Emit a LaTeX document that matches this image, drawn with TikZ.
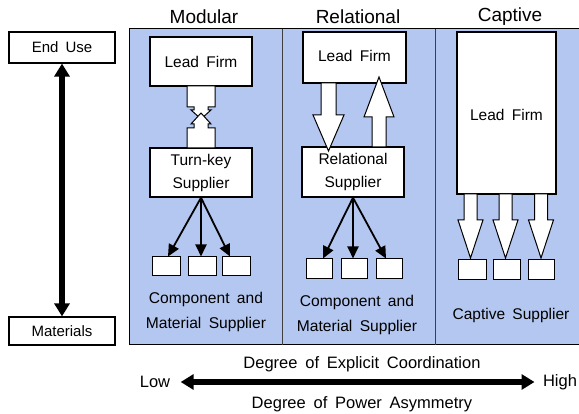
\documentclass[tikz,border=0pt]{standalone}
\usepackage{fontspec}
\setmainfont{Liberation Sans}[WordSpace=1.7]
\usetikzlibrary{arrows.meta}
\definecolor{panelblue}{RGB}{180,199,240}
\tikzset{
  firm/.style={draw=black, line width=1.4pt, fill=white, inner sep=0pt, align=center, font=\fontsize{15.5}{23}\selectfont},
  endbox/.style={draw=black, line width=1.2pt, fill=white, inner sep=0pt, minimum width=106pt, font=\fontsize{15}{18}\selectfont},
  smallbox/.style={draw=black, line width=1pt, fill=white, inner sep=0pt},
  fatarrow/.style={draw=black, line width=1pt, fill=white, line join=miter},
  link/.style={line width=1.8pt, -{Triangle[length=12pt,width=11pt]}},
  title/.style={font=\fontsize{19}{22}\selectfont},
  caption/.style={font=\fontsize{15.6}{24.5}\selectfont, align=center},
  axislabel/.style={font=\fontsize{16.5}{20}\selectfont},
  axis/.style={line width=6pt, {Triangle[length=13pt,width=15pt]}-{Triangle[length=13pt,width=15pt]}}
}
% hollow block arrow: center x, shaft start y, head base y, tip y, half shaft, half head
\newcommand\blockarrow[6]{%
  \draw[fatarrow] ({#1-#5},#2) -- ({#1+#5},#2) -- ({#1+#5},#3) -- ({#1+#6},#3)
    -- (#1,#4) -- ({#1-#6},#3) -- ({#1-#5},#3) -- cycle;}
\begin{document}
\begin{tikzpicture}[x=1pt, y=-1pt]
\useasboundingbox (0,0) rectangle (579,414);
% panels
\fill[panelblue] (129,29) rectangle (580,345);
\draw[line width=1pt] (580,29) -- (129,29) -- (129,345) -- (580,345);
\draw[line width=1pt, black!75] (282,29) -- (282,345);
\draw[line width=1pt, black!75] (435,29) -- (435,345);
% titles
\node[title] (tmod) at (204,17) {Modular};
\node[title] (trel) at (358,17) {Relational};
\node[title] (tcap) at (510,17) {Captive};
% value chain axis
\node[endbox, minimum height=31pt] (enduse) at (62,47.5) {End Use};
\node[endbox, minimum height=28pt] (materials) at (62,331) {Materials};
\draw[axis] (enduse.south) -- (materials.north);

% ---- Modular ----
\node[firm, minimum width=102pt, minimum height=49pt] (mlead) at (201,61.5) {Lead Firm};
\node[firm, minimum width=102pt, minimum height=49pt] (msup) at (201,172.5) {Turn-key\\Supplier};
% codified interface
\draw[fatarrow] (187,86) -- (215,86) -- (215,107) -- (208,107) -- (208,110) -- (211,110)
  -- (201,119) -- (191,110) -- (194,110) -- (194,107) -- (187,107) -- cycle;
\draw[fatarrow] (187,148) -- (215,148) -- (215,128) -- (208,128) -- (208,124) -- (211,124)
  -- (201,113) -- (191,124) -- (194,124) -- (194,128) -- (187,128) -- cycle;
\node[smallbox, minimum width=28pt, minimum height=19pt] (m1) at (166,266.5) {};
\node[smallbox, minimum width=28pt, minimum height=19pt] (m2) at (202,266.5) {};
\node[smallbox, minimum width=28pt, minimum height=19pt] (m3) at (236,266.5) {};
\draw[link] (msup.south) -- ([xshift=2pt]m1.north);
\draw[link] (msup.south) -- (m2.north -| msup.south);
\draw[link] (msup.south) -- ([xshift=-6pt]m3.north);
\node[caption] (mcap) at (206,312) {Component and\\Material Supplier};

% ---- Relational ----
\node[firm, minimum width=103pt, minimum height=51pt] (rlead) at (354.5,57.5) {\raisebox{4pt}{Lead Firm}};
\node[firm, minimum width=102pt, minimum height=50pt] (rsup) at (353,172) {Relational\\Supplier};
\blockarrow{328.5}{83}{115}{151}{7.5}{15.5}
\blockarrow{379}{147}{117}{77}{7}{15}
\node[smallbox, minimum width=26pt, minimum height=20pt] (r1) at (319,269) {};
\node[smallbox, minimum width=26pt, minimum height=20pt] (r2) at (354,269) {};
\node[smallbox, minimum width=26pt, minimum height=20pt] (r3) at (389,269) {};
\draw[link] (rsup.south) -- ([xshift=4pt]r1.north);
\draw[link] (rsup.south) -- (r2.north -| rsup.south);
\draw[link] (rsup.south) -- ([xshift=-3pt]r3.north);
\node[caption] (rcap) at (357,315) {Component and\\Material Supplier};

% ---- Captive ----
\node[firm, minimum width=99pt, minimum height=162pt] (clead) at (506.5,113) {};
\node[font=\fontsize{15.5}{18}\selectfont] (cleadtxt) at (506.5,115) {Lead Firm};
\node[smallbox, minimum width=28pt, minimum height=20pt] (c1) at (472,270) {};
\node[smallbox, minimum width=27pt, minimum height=20pt] (c2) at (506.5,270) {};
\node[smallbox, minimum width=26pt, minimum height=20pt] (c3) at (541,270) {};
\blockarrow{470.5}{194}{220}{258}{6.5}{12.5}
\blockarrow{505.5}{194}{220}{258}{6.5}{12.5}
\blockarrow{541}{194}{220}{258}{6.5}{12.5}
\node[font=\fontsize{15.5}{18}\selectfont] (ccap) at (511,315) {Captive Supplier};

% ---- coordination / power axis ----
\node[axislabel] (coord) at (362,364) {Degree of Explicit Coordination};
\node[axislabel] (low) at (155,382) {Low};
\node[axislabel] (high) at (560,382) {High};
\node[axislabel] (power) at (362,404) {Degree of Power Asymmetry};
\draw[axis] ([xshift=7pt]low.east) -- ([xshift=-5pt]high.west);
\end{tikzpicture}
\end{document}
